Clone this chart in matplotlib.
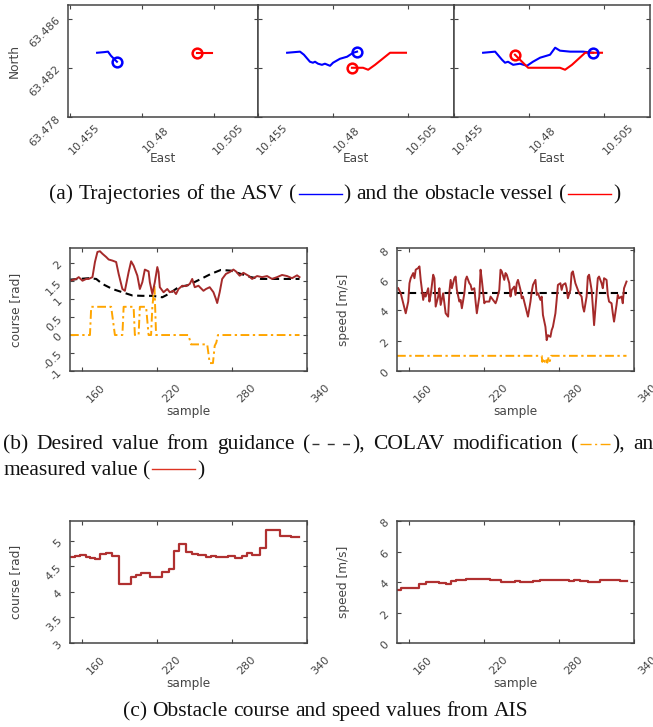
import matplotlib
matplotlib.use('Agg')
import matplotlib.pyplot as plt
from matplotlib.lines import Line2D
from matplotlib.transforms import ScaledTranslation

plt.rcParams['font.family'] = 'DejaVu Sans'
plt.rcParams['axes.unicode_minus'] = False

# ---- (a) trajectories: three snapshots ----
east_ticks = [10.455, 10.48, 10.505]
north_ticks = [63.478, 63.482, 63.486]

asv_east = [
    [10.4644, 10.4668, 10.4682, 10.4692, 10.4713],
    [10.4647, 10.4690, 10.4703, 10.4723, 10.4733, 10.4740, 10.4750, 10.4763,
     10.4773, 10.4790, 10.4800, 10.4823, 10.4847, 10.4867, 10.4880],
    [10.4647, 10.4687, 10.4710, 10.4720, 10.4730, 10.4747, 10.4770, 10.4793,
     10.4813, 10.4837, 10.4870, 10.4887, 10.4903, 10.4937, 10.4980, 10.5013],
]
asv_north = [
    [63.48322, 63.48327, 63.48331, 63.48298, 63.48249],
    [63.48322, 63.48331, 63.48306, 63.48249, 63.48241, 63.48249, 63.48233, 63.48224,
     63.48233, 63.48216, 63.48241, 63.48273, 63.48290, 63.48322, 63.48331],
    [63.48322, 63.48331, 63.48265, 63.48241, 63.48249, 63.48224, 63.48233, 63.48216,
     63.48249, 63.48282, 63.48306, 63.48363, 63.48339, 63.48331, 63.48331, 63.48322],
]
obs_east = [
    [10.5043, 10.4991],
    [10.5043, 10.4990, 10.4940, 10.4917, 10.4900, 10.4863],
    [10.5043, 10.4987, 10.4943, 10.4920, 10.4903, 10.4797, 10.4753],
]
obs_north = [
    [63.48322, 63.48322],
    [63.48322, 63.48322, 63.48224, 63.48184, 63.48200, 63.48200],
    [63.48322, 63.48322, 63.48224, 63.48184, 63.48200, 63.48200, 63.48306],
]

# ---- (b) ASV course / speed ----
sample_ticks = [160, 220, 280, 340]
course_ticks = [-1, -0.5, 0, 0.5, 1, 1.5, 2]
course_ticklabels = ['-1', '-0.5', '0', '0.5', '1', '1.5', '2']
speed_ticks = [0, 2, 4, 6, 8]

course_t = [150, 155, 157, 160, 163, 165, 168, 170, 172, 174,
            176, 179, 181, 184, 187, 189, 192, 194, 197, 199,
            201, 204, 206, 208, 210, 213, 214, 216, 218, 220,
            221, 222, 225, 228, 230, 233, 235, 237, 240, 243,
            246, 248, 250, 253, 257, 259, 262, 265, 267, 268,
            270, 272, 275, 278, 281, 283, 286, 289, 293, 296,
            300, 304, 308, 312, 316, 320, 324, 328, 332, 334]
course_meas = [1.51, 1.56, 1.61, 1.51, 1.56, 1.56, 1.61, 2.03, 2.31, 2.33,
               2.26, 2.17, 2.10, 2.07, 2.03, 1.70, 1.28, 1.23, 1.75, 2.05,
               1.93, 1.65, 1.28, 1.47, 1.82, 1.77, 1.47, 1.14, 1.47, 1.89,
               1.75, 1.33, 1.19, 1.28, 1.19, 1.23, 1.14, 1.28, 1.37, 1.36,
               1.42, 1.56, 1.33, 1.37, 1.23, 1.28, 1.33, 1.19, 1.00, 0.89,
               1.19, 1.56, 1.70, 1.75, 1.82, 1.77, 1.65, 1.73, 1.65, 1.56,
               1.64, 1.61, 1.64, 1.56, 1.61, 1.67, 1.64, 1.58, 1.66, 1.61]

course_des_t = [150, 165, 171, 176, 184, 192, 200, 208, 216, 224, 229, 237,
                245, 255, 263, 271, 279, 287, 295, 303, 314, 324, 334]
course_des = [1.54, 1.58, 1.56, 1.42, 1.28, 1.19, 1.10, 1.09, 1.09, 1.05, 1.14, 1.33,
              1.39, 1.56, 1.70, 1.81, 1.79, 1.70, 1.61, 1.56, 1.56, 1.56, 1.56]

colav_course_t = [150, 166, 167, 183, 186, 192, 193, 201, 202, 205, 206, 211,
                  213, 215, 216, 217.7, 219, 245, 247, 260, 262, 264.6, 266,
                  267.3, 268.6, 334]
colav_course = [0, 0, 0.785, 0.785, 0, 0, 0.785, 0.785, 0, 0, 0.785, 0.785,
                0, 0, 0.785, 1.37, 0, 0, -0.26, -0.26, -0.78, -0.78, -0.30,
                -0.21, 0, 0]

speed_t = [151, 153, 155, 157, 159, 160, 161, 163, 164, 165,
           167, 168, 169, 171, 172, 173, 175, 176, 177, 179,
           180, 181, 183, 184, 185, 187, 189, 191, 192, 193,
           194, 196, 197, 198, 200, 201, 202, 204, 205, 206,
           208, 209, 210, 212, 213, 214, 216, 217, 218, 220,
           221, 224, 225, 226, 228, 229, 230, 232, 233, 234,
           236, 237, 238, 240, 241, 242, 244, 245, 246, 247,
           249, 250, 251, 253, 255, 257, 258, 259, 261, 262,
           263, 265, 266, 267, 269, 270, 271, 273, 274, 275,
           277, 278, 279, 281, 282, 283, 285, 286, 287, 289,
           290, 291, 293, 294, 295, 296, 298, 299, 300, 302,
           303, 304, 306, 307, 308, 310, 311, 312, 314, 315,
           316, 318, 319, 320, 322, 323, 324, 326, 327, 328,
           330, 331, 332, 334]
speed_meas = [5.45, 5.12, 4.46, 3.80, 4.57, 5.78, 6.11, 6.45, 6.11, 6.67,
              6.78, 6.89, 6.00, 4.68, 5.12, 4.90, 5.45, 4.57, 5.01, 6.34,
              6.11, 4.24, 4.90, 5.45, 4.35, 5.12, 3.80, 3.58, 5.23, 6.00,
              5.45, 6.11, 6.22, 5.34, 4.57, 4.68, 4.13, 5.12, 6.00, 6.22,
              5.78, 5.67, 5.34, 5.45, 4.57, 3.80, 4.90, 6.67, 6.00, 4.46,
              4.57, 4.57, 4.90, 4.79, 4.57, 4.46, 4.68, 5.34, 6.67, 6.56,
              6.00, 6.45, 6.34, 5.78, 4.90, 5.34, 5.56, 5.01, 5.78, 6.00,
              5.34, 4.79, 4.90, 4.24, 3.58, 4.57, 5.23, 5.67, 6.00, 5.01,
              5.12, 4.68, 4.90, 3.69, 2.91, 2.03, 2.36, 2.25, 2.69, 2.91,
              3.80, 4.68, 5.67, 5.78, 5.34, 5.67, 5.78, 5.45, 4.79, 5.34,
              6.45, 6.56, 5.78, 5.56, 5.34, 5.12, 4.90, 4.24, 3.91, 4.90,
              6.22, 6.34, 5.34, 4.24, 3.02, 5.12, 6.11, 6.22, 5.78, 5.45,
              6.11, 6.00, 5.01, 4.57, 4.46, 3.80, 3.25, 4.35, 5.01, 4.79,
              4.90, 4.46, 5.45, 5.89]

speed_des_t = [150, 334]
speed_des = [5.15, 5.15]

colav_speed_t = [150, 266, 266.5, 267.5, 268.5, 269.5, 270.5, 271.5, 272.5, 273.5, 334]
colav_speed = [1.0, 1.0, 0.6, 0.85, 0.6, 0.8, 0.55, 0.9, 0.65, 1.0, 1.0]

# ---- (c) obstacle course / speed from AIS ----
ais_course_ticks = [3, 3.5, 4, 4.5, 5]
ais_course_t = [150, 154, 158, 163, 166, 170, 174, 179, 184, 189, 199, 203,
                207, 214, 224, 229.5, 233.5, 237, 243, 248, 253, 259, 263, 267,
                277, 282.5, 288, 292, 296, 302, 307, 318, 327.5, 333.5]
ais_course = [4.68, 4.70, 4.72, 4.69, 4.67, 4.64, 4.74, 4.76, 4.70, 4.16, 4.30, 4.34,
              4.38, 4.30, 4.39, 4.45, 4.80, 4.93, 4.79, 4.75, 4.72, 4.68, 4.71, 4.68,
              4.71, 4.67, 4.70, 4.76, 4.72, 4.87, 5.22, 5.09, 5.07, 5.07]
ais_speed_t = [150, 153.5, 168, 170.5, 173.5, 184, 189.5, 193.5, 197.5, 203, 205.5,
               224.5, 233.5, 244.5, 248.5, 259, 264.5, 283.5, 287.5, 291.5, 296.5,
               303.5, 313, 329, 334.5]
ais_speed = [3.48, 3.59, 3.85, 3.88, 4.00, 3.95, 3.85, 4.07, 4.10, 4.15, 4.18,
             4.10, 4.00, 4.06, 4.00, 4.06, 4.10, 4.16, 4.08, 4.16, 4.06,
             4.00, 4.10, 4.05, 4.05]

W, H = 653, 727
fig = plt.figure(figsize=(W / 100, H / 100), dpi=100)
GREY = '#454545'
BROWN = '#a52a2a'
ORANGE = '#ffa500'


def add_ax(l, t, r, b):
    return fig.add_axes([l / W, 1 - b / H, (r - l) / W, (b - t) / H])


def style(ax, xt, xtl, yt, ytl, xlab, ylab, box_px, show_y=True):
    w_px, h_px = box_px
    ax.set_xticks(xt, xtl)
    ax.set_yticks(yt, ytl)
    ax.tick_params(direction='in', top=True, right=True, length=3, width=0.8,
                   color=GREY, labelsize=8, labelcolor=GREY)
    ax.tick_params(axis='x', pad=16)
    ax.tick_params(axis='y', pad=7, labelleft=show_y)
    for s in ax.spines.values():
        s.set_color(GREY)
        s.set_linewidth(1.1)
    off = ScaledTranslation(0.14, 0, fig.dpi_scale_trans)
    for lab in ax.get_xticklabels():
        lab.set_rotation(45)
        lab.set_ha('center')
        lab.set_va('center')
        lab.set_rotation_mode('anchor')
        lab.set_transform(lab.get_transform() + off)
    for lab in ax.get_yticklabels():
        lab.set_rotation(45)
        lab.set_ha('right')
        lab.set_va('center')
        lab.set_rotation_mode('anchor')
    ax.set_xlabel(xlab, fontsize=8.7, color=GREY, va='center')
    ax.xaxis.set_label_coords(0.5, -41 / h_px)
    if ylab:
        ax.set_ylabel(ylab, fontsize=8.7, color=GREY, va='center')
        ax.yaxis.set_label_coords(-54 / w_px, 0.5)


# row (a)
edges = [(68, 258), (258, 454), (454, 650)]
for i, (l, r) in enumerate(edges):
    ax = add_ax(l, 5, r, 117)
    ax.plot(asv_east[i], asv_north[i], color='#0000ff', lw=1.5)
    ax.plot(obs_east[i], obs_north[i], color='#ff0000', lw=1.5)
    ax.plot(asv_east[i][-1], asv_north[i][-1], 'o', mfc='none', mec='#0000ff', ms=7, mew=1.8)
    ax.plot(obs_east[i][-1], obs_north[i][-1], 'o', mfc='none', mec='#ff0000', ms=7, mew=1.8)
    ax.set_xlim(10.455 if i else 10.4543, 10.5203)
    ax.set_ylim(63.478, 63.4871)
    style(ax, east_ticks, [str(v) for v in east_ticks], north_ticks,
          [str(v) for v in north_ticks], 'East', 'North' if i == 0 else None,
          (r - l, 112), show_y=(i == 0))

# row (b)
ax = add_ax(70, 248, 307, 371)
ax.plot(course_des_t, course_des, color='black', lw=1.5, dashes=(3.5, 2.2))
ax.plot(colav_course_t, colav_course, color=ORANGE, lw=1.4, dashes=(4.5, 1.8, 1.2, 1.8))
ax.plot(course_t, course_meas, color=BROWN, lw=1.4)
ax.set_xlim(150, 340)
ax.set_ylim(-1, 2.42)
style(ax, sample_ticks, [str(v) for v in sample_ticks], course_ticks, course_ticklabels,
      'sample', 'course [rad]', (237, 123))

ax = add_ax(397, 248, 634, 371)
ax.plot(speed_des_t, speed_des, color='black', lw=1.5, dashes=(3.5, 2.2))
ax.plot(colav_speed_t, colav_speed, color=ORANGE, lw=1.4, dashes=(4.5, 1.8, 1.2, 1.8))
ax.plot(speed_t, speed_meas, color=BROWN, lw=1.4)
ax.set_xlim(150, 340)
ax.set_ylim(0, 8.1)
style(ax, sample_ticks, [str(v) for v in sample_ticks], speed_ticks,
      [str(v) for v in speed_ticks], 'sample', 'speed [m/s]', (237, 123))

# row (c)
ax = add_ax(70, 521, 307, 643)
ax.plot(ais_course_t, ais_course, color='#b03030', lw=1.6, drawstyle='steps-post')
ax.set_xlim(150, 340)
ax.set_ylim(3, 5.39)
style(ax, sample_ticks, [str(v) for v in sample_ticks], ais_course_ticks,
      [str(v) for v in ais_course_ticks], 'sample', 'course [rad]', (237, 122))

ax = add_ax(397, 521, 634, 643)
ax.plot(ais_speed_t, ais_speed, color='#b03030', lw=1.6, drawstyle='steps-post')
ax.set_xlim(150, 340)
ax.set_ylim(0, 8)
style(ax, sample_ticks, [str(v) for v in sample_ticks], speed_ticks,
      [str(v) for v in speed_ticks], 'sample', 'speed [m/s]', (237, 122))

# captions, laid out word by word in pixel units
renderer = fig.canvas.get_renderer()
CAP = dict(family='Liberation Serif', fontsize=15.5, color='#111111')


def text_w(s):
    t = fig.text(0, 0, s, **CAP)
    w = t.get_window_extent(renderer).width
    t.remove()
    return w


SPACE = text_w('a a') - text_w('aa')


def layout(pieces, extra=0.0):
    # returns list of (kind, x_offset, payload) and total width
    out = []
    x = 0.0
    for p in pieces:
        if isinstance(p, str):
            words = p.split(' ')
            for k, wd in enumerate(words):
                if k > 0:
                    x += SPACE + extra
                if wd:
                    out.append(('t', x, wd))
                    x += text_w(wd)
            x += 1
        else:
            out.append(('l', x + 1, p))
            x += p[1] + 3
    return out, x


def caption(base, pieces, x0=None, center=None, right=None):
    items, width = layout(pieces)
    extra = 0.0
    if right is not None:
        n = sum(s.count(' ') for s in pieces if isinstance(s, str))
        extra = (right - x0 - width) / n
        items, width = layout(pieces, extra)
    if center is not None:
        x0 = center - width / 2
    for kind, x, payload in items:
        if kind == 't':
            fig.text((x0 + x) / W, 1 - base / H, payload, va='baseline', ha='left', **CAP)
        else:
            color, length, dashes = payload
            ln = Line2D([(x0 + x) / W, (x0 + x + length) / W],
                        [1 - (base - 5.5) / H, 1 - (base - 5.5) / H],
                        color=color, lw=1.0, transform=fig.transFigure)
            if dashes:
                ln.set_dashes(dashes)
            fig.add_artist(ln)


caption(199, ['(a) Trajectories of the ASV (', ('#0000ff', 43, None),
              ') and the obstacle vessel (', ('#ff0000', 43, None), ')'], center=335)
caption(449, ['(b) Desired value from guidance (', ('#333333', 38, (5, 6)),
              '), COLAV modification (', ('#ffa500', 30, (8, 2.5, 1.5, 2.5)), '), and'],
        x0=3, right=665)
caption(475, ['measured value (', ('#dd3322', 43, None), ')'], x0=3)
caption(716, ['(c) Obstacle course and speed values from AIS'], center=326)

fig.savefig('out.png', dpi=100)
